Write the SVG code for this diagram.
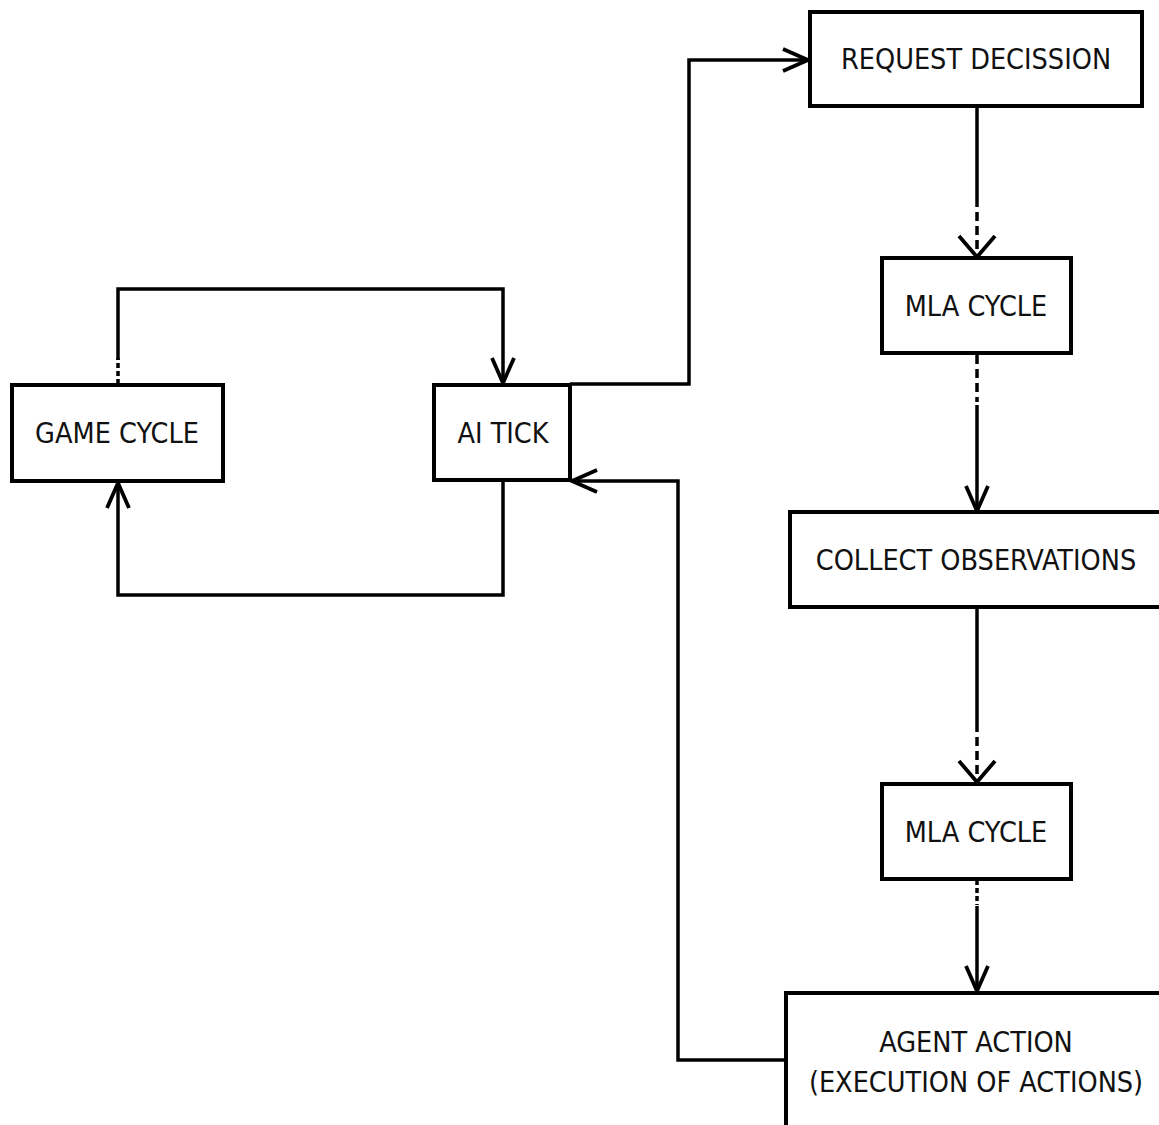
<svg xmlns="http://www.w3.org/2000/svg" width="1159" height="1125" viewBox="0 0 1159 1125">
  <style>
    .box { fill: #ffffff; stroke: #000000; stroke-width: 4; }
    .label { font-family: 'DejaVu Sans Condensed', 'DejaVu Sans', sans-serif; font-stretch: condensed; font-size: 28.5px; fill: #111111; text-anchor: middle; }
    .wire { fill: none; stroke: #000000; stroke-width: 3.5; }
    .dash { fill: none; stroke: #000000; stroke-width: 3.5; stroke-dasharray: 9 5; }
  </style>
  <defs>
    <marker id="arrow" markerUnits="userSpaceOnUse" markerWidth="40" markerHeight="40" viewBox="-30 -20 40 40" refX="0" refY="0" orient="auto" overflow="visible">
      <path d="M-25,-11 L0,0 L-25,11" fill="none" stroke="#000" stroke-width="3.8"/>
    </marker>
    <marker id="arrowWide" markerUnits="userSpaceOnUse" markerWidth="40" markerHeight="40" viewBox="-30 -20 40 40" refX="0" refY="0" orient="auto" overflow="visible">
      <path d="M-21,-18 L0,0 L-21,18" fill="none" stroke="#000" stroke-width="3.8"/>
    </marker>
  </defs>

  <rect width="1159" height="1125" fill="#ffffff"/>

  <g id="connectors">
    <!-- game cycle -> AI tick (loop over the top) -->
    <path class="dash" d="M118,384 V358" style="stroke-dasharray: 5 3"/>
    <path class="wire" d="M118,360 V289 H503 V383" marker-end="url(#arrow)"/>
    <!-- AI tick -> game cycle (loop underneath) -->
    <path class="wire" d="M503,481 V595 H118 V483" marker-end="url(#arrow)"/>
    <!-- AI tick -> request decission -->
    <path class="wire" d="M570,384 H689 V60 H808" marker-end="url(#arrow)"/>
    <!-- agent action -> AI tick -->
    <path class="wire" d="M786,1060 H678 V481 H572" marker-end="url(#arrow)"/>
    <!-- request decission -> MLA cycle -->
    <path class="wire" d="M977,106 V207"/>
    <path class="dash" d="M977,212 V257" marker-end="url(#arrowWide)"/>
    <!-- MLA cycle -> collect observations -->
    <path class="dash" d="M977,355 V402"/>
    <path class="wire" d="M977,405 V511" marker-end="url(#arrow)"/>
    <!-- collect observations -> MLA cycle -->
    <path class="wire" d="M977,607 V732"/>
    <path class="dash" d="M977,737 V782" marker-end="url(#arrowWide)"/>
    <!-- MLA cycle -> agent action -->
    <path class="dash" d="M977,880 V905" style="stroke-dasharray: 5 3"/>
    <path class="wire" d="M977,906 V991" marker-end="url(#arrow)"/>
  </g>

  <g id="game-cycle">
    <rect class="box" x="12" y="385" width="211" height="96"/>
    <text class="label" x="117" y="443">GAME CYCLE</text>
  </g>

  <g id="ai-tick">
    <rect class="box" x="434" y="385" width="136" height="95"/>
    <text class="label" x="503" y="443">AI TICK</text>
  </g>

  <g id="request-decission">
    <rect class="box" x="810" y="12" width="332" height="94"/>
    <text class="label" x="976" y="69">REQUEST DECISSION</text>
  </g>

  <g id="mla-cycle-1">
    <rect class="box" x="882" y="258" width="189" height="95"/>
    <text class="label" x="976" y="316">MLA CYCLE</text>
  </g>

  <g id="collect-observations">
    <rect class="box" x="790" y="512" width="380" height="95"/>
    <text class="label" x="976" y="570">COLLECT OBSERVATIONS</text>
  </g>

  <g id="mla-cycle-2">
    <rect class="box" x="882" y="784" width="189" height="95"/>
    <text class="label" x="976" y="842">MLA CYCLE</text>
  </g>

  <g id="agent-action">
    <rect class="box" x="786" y="993" width="390" height="150"/>
    <text class="label" x="976" y="1052">AGENT ACTION</text>
    <text class="label" x="976" y="1092">(EXECUTION OF ACTIONS)</text>
  </g>
</svg>
